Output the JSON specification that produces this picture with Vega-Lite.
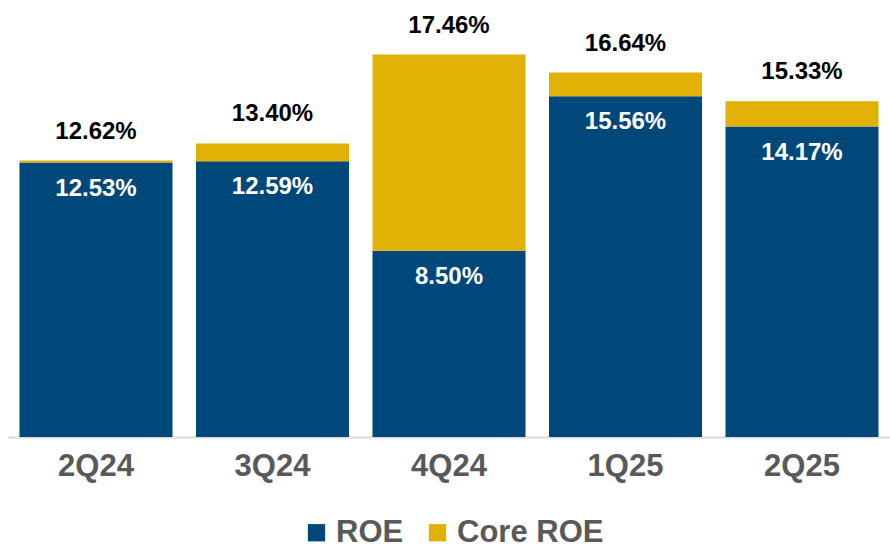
{
  "$schema": "https://vega.github.io/schema/vega-lite/v6.json",
  "autosize": {"type": "none"},
  "padding": {"left": 8, "top": 0, "right": 0, "bottom": 113},
  "width": 882,
  "height": 437,
  "background": "white",
  "config": {"view": {"stroke": null}, "font": "Liberation Sans"},
  "data": {
    "values": [
      {"quarter": "2Q24", "series": "ROE", "low": 0, "high": 12.53},
      {"quarter": "2Q24", "series": "Core ROE", "low": 12.53, "high": 12.62},
      {"quarter": "3Q24", "series": "ROE", "low": 0, "high": 12.59},
      {"quarter": "3Q24", "series": "Core ROE", "low": 12.59, "high": 13.40},
      {"quarter": "4Q24", "series": "ROE", "low": 0, "high": 8.50},
      {"quarter": "4Q24", "series": "Core ROE", "low": 8.50, "high": 17.46},
      {"quarter": "1Q25", "series": "ROE", "low": 0, "high": 15.56},
      {"quarter": "1Q25", "series": "Core ROE", "low": 15.56, "high": 16.64},
      {"quarter": "2Q25", "series": "ROE", "low": 0, "high": 14.17},
      {"quarter": "2Q25", "series": "Core ROE", "low": 14.17, "high": 15.33}
    ]
  },
  "transform": [{"calculate": "format(datum.high, '.2f') + '%'", "as": "label"}],
  "encoding": {
    "x": {
      "field": "quarter", "type": "nominal", "sort": null,
      "scale": {"paddingInner": 0.133, "paddingOuter": 0.065},
      "axis": {
        "title": null, "labelAngle": 0, "ticks": false,
        "domainColor": "#d9d9d9", "domainWidth": 2,
        "labelFont": "Liberation Sans", "labelFontSize": 31, "labelFontWeight": "bold",
        "labelColor": "#595959", "labelPadding": 14
      }
    }
  },
  "layer": [
    {
      "mark": {"type": "bar"},
      "encoding": {
        "y": {"field": "low", "type": "quantitative", "scale": {"domain": [0, 19.95], "nice": false}, "axis": null},
        "y2": {"field": "high"},
        "color": {
          "field": "series", "type": "nominal",
          "scale": {"domain": ["ROE", "Core ROE"], "range": ["#00477A", "#E2B106"]},
          "legend": {
            "title": null, "orient": "none", "direction": "horizontal",
            "legendX": 293, "legendY": 517,
            "symbolType": "square", "symbolSize": 300, "symbolStrokeWidth": 0, "symbolOpacity": 1,
            "labelFont": "Liberation Sans", "labelFontSize": 31, "labelFontWeight": "bold",
            "labelColor": "#595959", "labelOffset": 4, "columnPadding": 18
          }
        }
      }
    },
    {
      "transform": [{"filter": "datum.series === 'ROE'"}],
      "mark": {"type": "text", "dy": 26, "baseline": "middle", "fontSize": 24, "fontWeight": "bold", "color": "white"},
      "encoding": {
        "y": {"field": "high", "type": "quantitative"},
        "text": {"field": "label"}
      }
    },
    {
      "transform": [{"filter": "datum.series === 'Core ROE'"}],
      "mark": {"type": "text", "dy": -29, "baseline": "middle", "fontSize": 24, "fontWeight": "bold", "color": "black"},
      "encoding": {
        "y": {"field": "high", "type": "quantitative"},
        "text": {"field": "label"}
      }
    }
  ]
}
